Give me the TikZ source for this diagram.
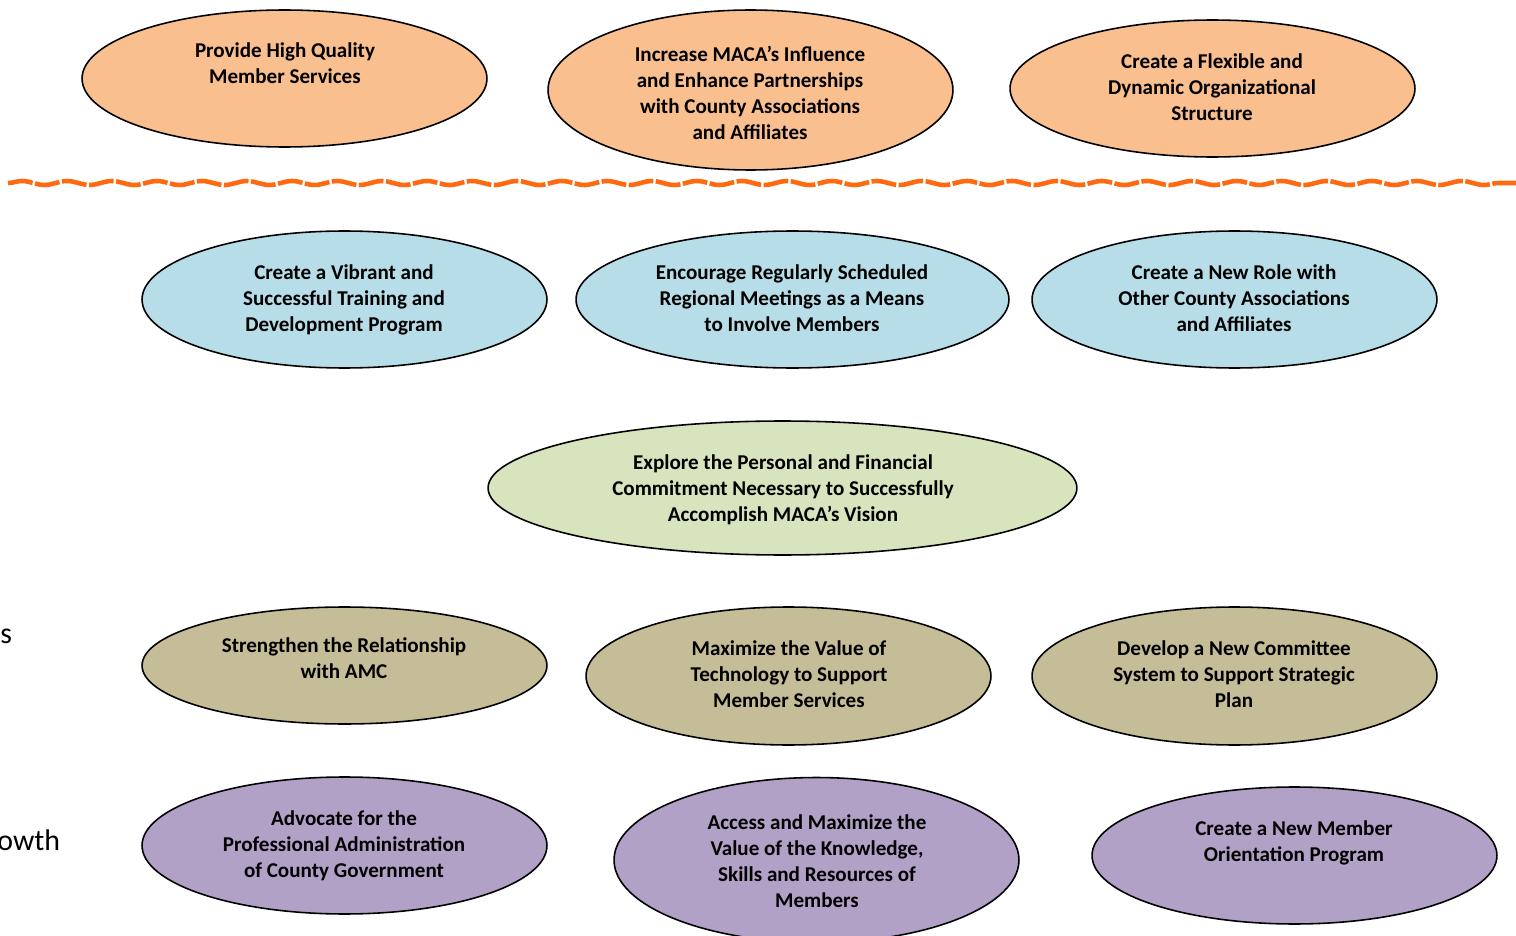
\documentclass[tikz,border=0pt]{standalone}
\usepackage{fontspec}
\setmainfont{Carlito}
\usepackage{xcolor}
\usepackage{tikz}
\usetikzlibrary{shapes,positioning,calc,decorations.pathmorphing}

\definecolor{orangefill}{HTML}{F9BF8F}
\definecolor{bluefill}{HTML}{B7DDE8}
\definecolor{greenfill}{HTML}{D7E4BD}
\definecolor{khakifill}{HTML}{C4BD97}
\definecolor{purplefill}{HTML}{B2A1C7}
\definecolor{wavecolor}{HTML}{FF6A10}

\begin{document}
\begin{tikzpicture}[x=0.02cm, y=-0.02cm,
    goal/.style={ellipse, draw=black, line width=0.9pt, inner sep=0pt, minimum width=8.1cm, minimum height=2.74cm},
    goaltext/.style={align=center, font=\fontsize{12}{14.8}\selectfont\bfseries},
    sidetext/.style={anchor=west, inner sep=0pt, font=\fontsize{17}{20}\selectfont}]
    \clip (0,0) rectangle (1516,936);

    % top row
    \node[goal, fill=orangefill] (svc) at (284.5,78.5) {};
    \node[goaltext] (svc-t) at (285,63) {Provide High Quality\\Member Services};
    \node[goal, fill=orangefill, minimum height=3.2cm] (infl) at (750.5,90) {};
    \node[goaltext] (infl-t) at (750,93) {Increase MACA’s Influence\\and Enhance Partnerships\\with County Associations\\and Affiliates};
    \node[goal, fill=orangefill] (struct) at (1212.5,88.5) {};
    \node[goaltext] (struct-t) at (1212,87) {Create a Flexible and\\Dynamic Organizational\\Structure};

    % divider
    \draw[wavecolor, line width=2.6pt, dash pattern=on 0.5cm off 0.05cm, decorate, decoration={snake, amplitude=0.04cm, segment length=0.9cm}] (8,183) -- (1516,183);

    % second row
    \node[goal, fill=bluefill] (train) at (344.5,299.5) {};
    \node[goaltext] (train-t) at (344,300) {Create a Vibrant and\\Successful Training and\\Development Program};
    \node[goal, fill=bluefill, minimum width=8.66cm] (meet) at (792.5,299.5) {};
    \node[goaltext] (meet-t) at (792,298) {Encourage Regularly Scheduled\\Regional Meetings as a Means\\to Involve Members};
    \node[goal, fill=bluefill] (role) at (1234.5,299.5) {};
    \node[goaltext] (role-t) at (1234,298) {Create a New Role with\\Other County Associations\\and Affiliates};

    % middle
    \node[goal, fill=greenfill, minimum width=11.78cm, minimum height=2.68cm] (commit) at (782.5,488) {};
    \node[goaltext] (commit-t) at (783,490) {Explore the Personal and Financial\\Commitment Necessary to Successfully\\Accomplish MACA’s Vision};

    % fourth row
    \node[sidetext] (side1) at (0,636) {s};
    \node[goal, fill=khakifill, minimum height=2.34cm] (amc) at (344.5,665.5) {};
    \node[goaltext] (amc-t) at (344,658) {Strengthen the Relationship\\with AMC};
    \node[goal, fill=khakifill, minimum height=2.76cm] (tech) at (788.5,676) {};
    \node[goaltext] (tech-t) at (789,674) {Maximize the Value of\\Technology to Support\\Member Services};
    \node[goal, fill=khakifill, minimum height=2.76cm] (cmte) at (1234.5,676) {};
    \node[goaltext] (cmte-t) at (1234,674) {Develop a New Committee\\System to Support Strategic\\Plan};

    % bottom row
    \node[sidetext] (side2) at (-3,840) {owth};
    \node[goal, fill=purplefill] (admin) at (344.5,845.5) {};
    \node[goaltext] (admin-t) at (344,846) {Advocate for the\\Professional Administration\\of County Government};
    \node[goal, fill=purplefill, minimum height=3.3cm] (know) at (816.5,860) {};
    \node[goaltext] (know-t) at (817,861) {Access and Maximize the\\Value of the Knowledge,\\Skills and Resources of\\Members};
    \node[goal, fill=purplefill] (orient) at (1294.5,855.5) {};
    \node[goaltext] (orient-t) at (1294,843) {Create a New Member\\Orientation Program};
\end{tikzpicture}
\end{document}
